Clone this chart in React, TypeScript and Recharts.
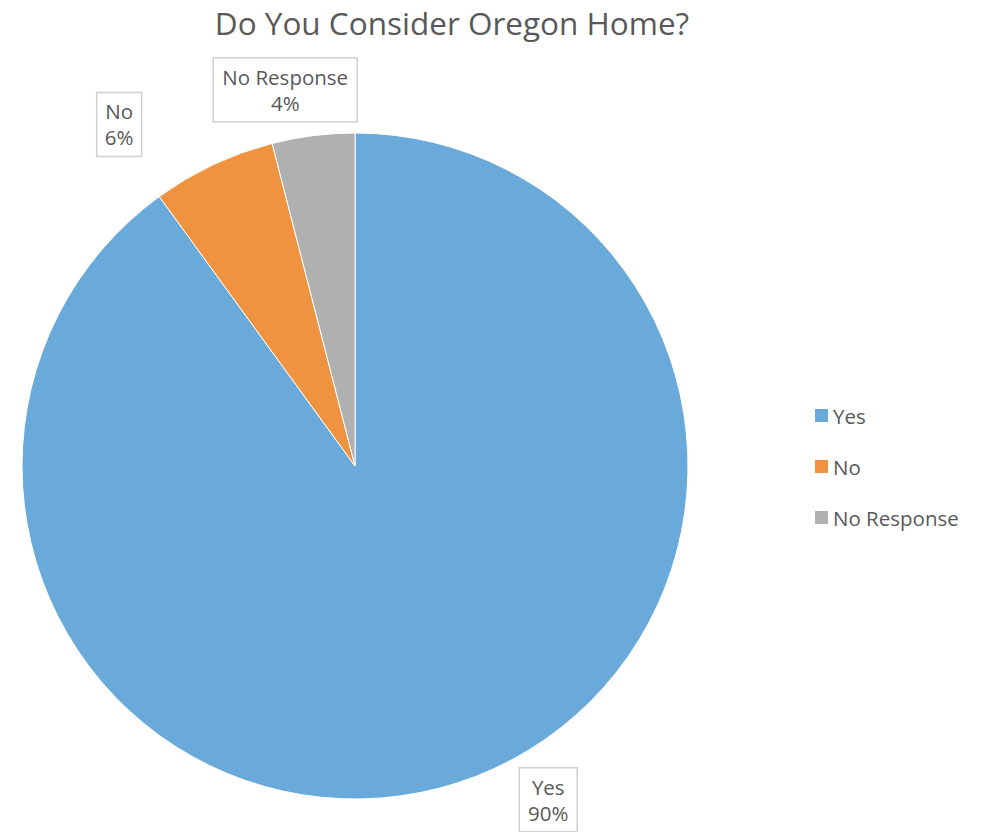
import { PieChart, Pie, Cell, Legend } from "recharts";

const categories = ["Yes", "No", "No Response"];
const shares = [90, 6, 4];
const colors = ["#6AAADB", "#F09340", "#B0B0B0"];

// label box tweaks, per slice (nudge from the polar anchor, box width)
const labelNudge = [
  { dx: 78, dy: -21, w: 58 },
  { dx: -77, dy: -4, w: 45 },
  { dx: -23, dy: -6, w: 144 },
];

const data = categories.map((name, i) => ({ name, value: shares[i] }));

const FONT = "'Open Sans', 'Noto Sans', sans-serif";
const RAD = Math.PI / 180;

function renderLabel(props: any) {
  const { cx, cy, midAngle, outerRadius, index, name, percent } = props;
  const r = outerRadius + 40;
  const n = labelNudge[index];
  const x = cx + r * Math.cos(-midAngle * RAD) + n.dx;
  const y = cy + r * Math.sin(-midAngle * RAD) + n.dy;
  return (
    <g>
      <rect
        x={x - n.w / 2}
        y={y - 32}
        width={n.w}
        height={64}
        fill="#fff"
        stroke="#D0D0D0"
        strokeWidth={1.5}
      />
      <text
        x={x}
        y={y - 5}
        textAnchor="middle"
        fill="#595959"
        fontSize={20.5}
        fontFamily={FONT}
      >
        {name}
      </text>
      <text
        x={x}
        y={y + 21}
        textAnchor="middle"
        fill="#595959"
        fontSize={20.5}
        fontFamily={FONT}
      >
        {`${Math.round(percent * 100)}%`}
      </text>
    </g>
  );
}

function LegendList({ payload }: any) {
  const items = [...(payload || [])].sort(
    (a: any, b: any) => categories.indexOf(a.value) - categories.indexOf(b.value)
  );
  return (
    <div style={{ fontFamily: FONT, fontSize: 20.5, color: "#595959" }}>
      {items.map((p: any) => (
        <div
          key={p.value}
          style={{ display: "flex", alignItems: "center", height: 51 }}
        >
          <span
            style={{
              display: "inline-block",
              width: 13,
              height: 13,
              background: p.color,
              marginRight: 5,
            }}
          />
          {p.value}
        </div>
      ))}
    </div>
  );
}

export default function App() {
  return (
    <div
      style={{
        position: "absolute",
        left: 0,
        top: 0,
        width: 986,
        height: 832,
        background: "#fff",
      }}
    >
      <div
        style={{
          position: "absolute",
          top: 1,
          left: 0,
          width: 904,
          textAlign: "center",
          fontFamily: FONT,
          fontSize: 31.5,
          color: "#595959",
        }}
      >
        Do You Consider Oregon Home?
      </div>
      <PieChart
        width={986}
        height={832}
        margin={{ top: 0, right: 0, bottom: 0, left: 0 }}
      >
        <Pie
          data={data}
          dataKey="value"
          nameKey="name"
          cx={355}
          cy={466}
          outerRadius={333}
          startAngle={90}
          endAngle={-270}
          stroke="#fff"
          strokeWidth={1}
          label={renderLabel}
          labelLine={false}
          isAnimationActive={false}
        >
          {data.map((d, i) => (
            <Cell key={d.name} fill={colors[i]} />
          ))}
        </Pie>
        <Legend
          layout="vertical"
          align="right"
          verticalAlign="top"
          wrapperStyle={{ left: 815, top: 390, width: 170 }}
          content={<LegendList />}
        />
      </PieChart>
    </div>
  );
}
